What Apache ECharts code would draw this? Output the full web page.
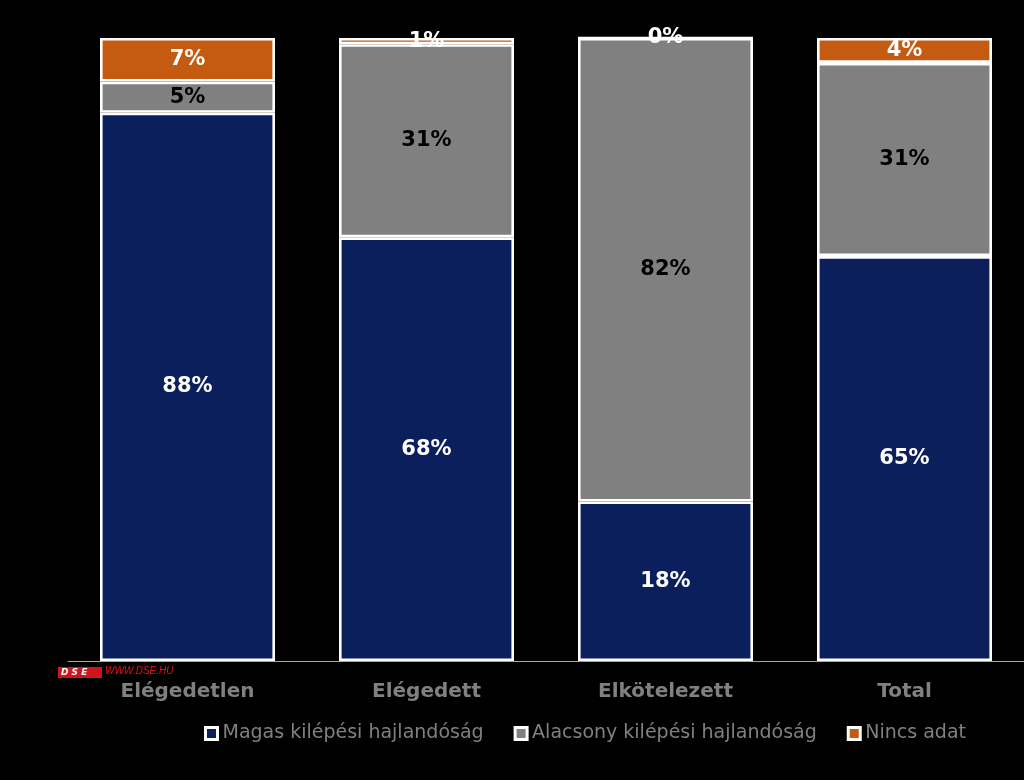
<!DOCTYPE html>
<html><head><meta charset="utf-8">
<script src="https://cdn.jsdelivr.net/npm/echarts@6/dist/echarts.min.js"></script>
<style>html,body{margin:0;padding:0;background:#000}#c{width:1024px;height:780px}</style>
</head><body><div id="c"></div>
<script>
const categories = ['Elégedetlen', 'Elégedett', 'Elkötelezett', 'Total'];
const seriesNames = ['Magas kilépési hajlandóság', 'Alacsony kilépési hajlandóság', 'Nincs adat'];
// bar heights as drawn in the picture (share of the 100% column)
const magas = [88, 68, 25.6, 65];
const alacsony = [5, 31, 74.4, 31];
const nincs = [7, 1, 0, 4];
// data labels as printed on the picture
const magasLabels = ['88%', '68%', '18%', '65%'];
const alacsonyLabels = ['5%', '31%', '82%', '31%'];
const nincsLabels = ['7%', '1%', '0%', '4%'];

const colors = ['#0B1F5C', '#808080', '#C55A11'];
const labelColors = ['#ffffff', '#000000', '#ffffff'];
const dataSets = [magas, alacsony, nincs];
const labelSets = [magasLabels, alacsonyLabels, nincsLabels];

const chart = echarts.init(document.getElementById('c'));
chart.setOption({
  backgroundColor: '#000000',
  animation: false,
  grid: { left: 68, right: 0, top: 38, bottom: 119 },
  xAxis: {
    type: 'category', data: categories,
    axisLine: { show: true, lineStyle: { color: '#a6a6a6', width: 1 } },
    axisTick: { show: false },
    axisLabel: { color: '#808080', fontFamily: 'DejaVu Sans', fontWeight: 'bold', fontSize: 20, margin: 21 }
  },
  yAxis: { type: 'value', min: 0, max: 100, show: false, splitLine: { show: false } },
  legend: {
    left: 199, top: 719, itemWidth: 12, itemHeight: 12, itemGap: 30, icon: 'rect',
    itemStyle: { borderColor: '#ffffff', borderWidth: 3 },
    textStyle: { color: '#808080', fontFamily: 'DejaVu Sans', fontSize: 19 },
    data: seriesNames
  },
  series: dataSets.map((d, i) => ({
    name: seriesNames[i], type: 'bar', stack: 'all', data: d, barWidth: 175,
    itemStyle: { color: colors[i], borderColor: '#ffffff', borderWidth: 2.6 },
    label: {
      show: true, position: 'inside', color: labelColors[i],
      formatter: p => labelSets[i][p.dataIndex],
      fontFamily: 'DejaVu Sans', fontWeight: 'bold', fontSize: 21
    }
  })),
  graphic: [
    { type: 'rect', left: 58, top: 667, shape: { width: 44, height: 11 }, style: { fill: '#d0141b' } },
    { type: 'text', left: 61, top: 668, style: { text: 'D S E', fill: '#ffffff', font: 'italic bold 9px DejaVu Sans' } },
    { type: 'text', left: 105, top: 666, style: { text: 'WWW.DSE.HU', fill: '#e0141b', font: 'italic 10px Liberation Sans' } }
  ]
});
</script></body></html>
